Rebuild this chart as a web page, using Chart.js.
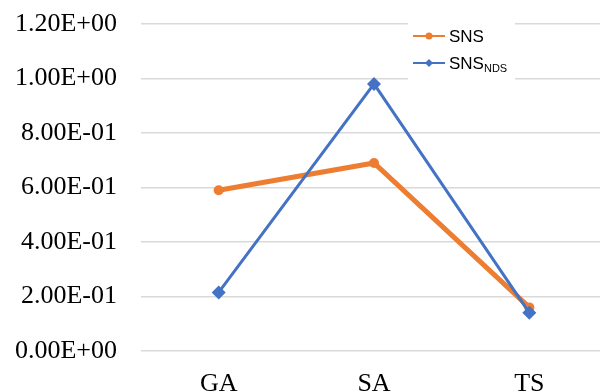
<!DOCTYPE html>
<html>
<head>
<meta charset="utf-8">
<script src="https://cdn.jsdelivr.net/npm/chart.js@4"></script>
<style>
  html, body { margin: 0; padding: 0; background: #fff; overflow: hidden; }
  #wrap { width: 600px; height: 392px; overflow: hidden; }
</style>
</head>
<body>
<div id="wrap"><canvas id="chart" width="614" height="392"></canvas></div>
<script>
const categories = ["GA", "SA", "TS"];
const snsValues = [0.59, 0.69, 0.16];
const snsNdsValues = [0.215, 0.98, 0.14];
const yTicks = [0, 0.2, 0.4, 0.6, 0.8, 1.0, 1.2];

const ORANGE = "#ED7D31";
const BLUE = "#4472C4";

// format like Excel scientific: 1.20E+00
function sci(v) {
  if (Math.abs(v) < 1e-9) return "0.00E+00";
  let exp = Math.floor(Math.log10(Math.abs(v)) + 1e-9);
  let mant = v / Math.pow(10, exp);
  let sign = exp < 0 ? "-" : "+";
  let e = String(Math.abs(exp)).padStart(2, "0");
  return mant.toFixed(2) + "E" + sign + e;
}

// legend box with subscript, drawn over the grid
const legendBox = {
  id: "legendBox",
  afterDraw(chart) {
    const c = chart.ctx;
    c.save();
    c.fillStyle = "#fff";
    c.fillRect(408, 22, 107, 60);
    const rows = [
      { y: 36, color: ORANGE, main: "SNS", sub: "", point: "circle" },
      { y: 63, color: BLUE, main: "SNS", sub: "NDS", point: "diamond" },
    ];
    rows.forEach((r) => {
      c.strokeStyle = r.color;
      c.lineWidth = 2;
      c.beginPath();
      c.moveTo(413, r.y);
      c.lineTo(445, r.y);
      c.stroke();
      c.fillStyle = r.color;
      c.beginPath();
      if (r.point === "circle") {
        c.arc(429, r.y, 3.5, 0, Math.PI * 2);
      } else {
        c.moveTo(429, r.y - 4);
        c.lineTo(433, r.y);
        c.lineTo(429, r.y + 4);
        c.lineTo(425, r.y);
        c.closePath();
      }
      c.fill();
      c.fillStyle = "#000";
      c.font = "17px 'Liberation Sans'";
      c.textBaseline = "middle";
      c.textAlign = "left";
      c.fillText(r.main, 449, r.y + 1);
      if (r.sub) {
        const w = c.measureText(r.main).width;
        c.font = "11px 'Liberation Sans'";
        c.fillText(r.sub, 449 + w, r.y + 6);
      }
    });
    c.restore();
  },
};

const ctx = document.getElementById("chart").getContext("2d");
new Chart(ctx, {
  type: "line",
  data: {
    labels: categories,
    datasets: [
      {
        label: "SNS_NDS",
        data: snsNdsValues,
        borderColor: BLUE,
        backgroundColor: BLUE,
        borderWidth: 3,
        pointStyle: "rectRot",
        pointRadius: 7,
        pointBorderWidth: 0,
        tension: 0,
        order: 1,
      },
      {
        label: "SNS",
        data: snsValues,
        borderColor: ORANGE,
        backgroundColor: ORANGE,
        borderWidth: 5,
        pointStyle: "circle",
        pointRadius: 5,
        pointBorderWidth: 0,
        tension: 0,
        order: 2,
      },
    ],
  },
  options: {
    responsive: false,
    animation: false,
    layout: { padding: { top: 24, right: 0, left: 0, bottom: 0 } },
    plugins: { legend: { display: false }, tooltip: { enabled: false } },
    scales: {
      x: {
        offset: true,
        grid: { display: false, drawTicks: false },
        border: { display: false },
        ticks: {
          color: "#000",
          font: { family: "'Liberation Serif'", size: 26 },
          padding: 18,
          maxRotation: 0,
        },
        afterFit: (s) => {
          s.height = 41;
          s.paddingLeft = 0;
          s.paddingRight = 0;
        },
      },
      y: {
        min: 0,
        max: 1.2,
        afterBuildTicks: (s) => { s.ticks = yTicks.map((v) => ({ value: v })); },
        grid: { color: "#d9d9d9", lineWidth: 1.5, drawTicks: false },
        border: { display: false },
        ticks: {
          color: "#000",
          font: { family: "'Liberation Serif'", size: 26 },
          padding: 24,
          callback: (v) => sci(v),
        },
        afterFit: (s) => {
          s.width = 141;
          s.paddingTop = 0;
          s.paddingBottom = 0;
        },
      },
    },
  },
  plugins: [legendBox],
});
</script>
</body>
</html>
